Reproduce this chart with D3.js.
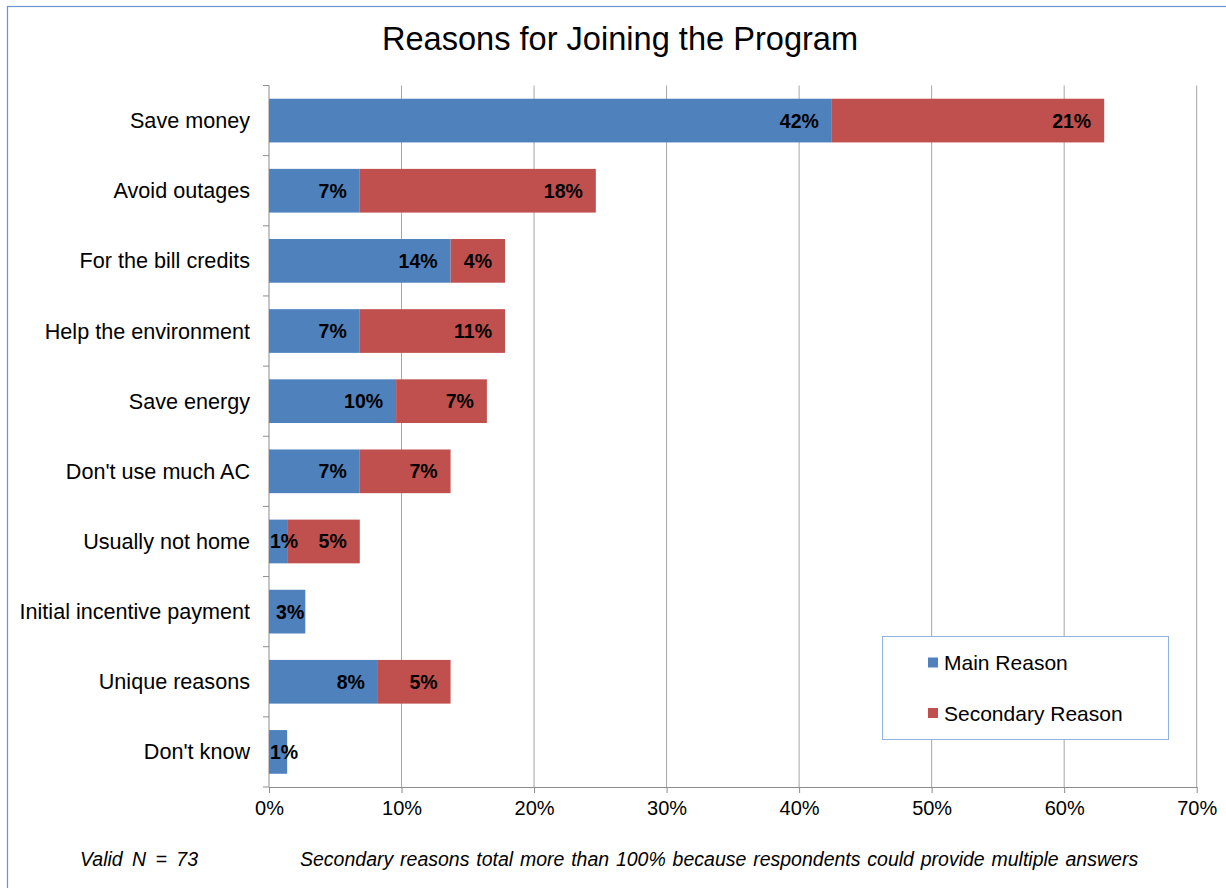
<!DOCTYPE html>
<html>
<head>
<meta charset="utf-8">
<script src="https://cdn.jsdelivr.net/npm/d3@7"></script>
<style>
  html, body { margin: 0; padding: 0; background: #ffffff; }
  svg { display: block; font-family: Arial, "Liberation Sans", sans-serif; }
</style>
</head>
<body>
<svg id="chart" width="1226" height="888"></svg>
<script>
// Reasons for joining, share of respondents (%), Valid N = 73
const categories = [
  "Save money",
  "Avoid outages",
  "For the bill credits",
  "Help the environment",
  "Save energy",
  "Don't use much AC",
  "Usually not home",
  "Initial incentive payment",
  "Unique reasons",
  "Don't know"
];
const mainReason      = [42.47, 6.85, 13.70, 6.85, 9.59, 6.85, 1.37, 2.74, 8.22, 1.37];
const secondaryReason = [20.55, 17.81, 4.11, 10.96, 6.85, 6.85, 5.48, 0, 5.48, 0];
const seriesNames = ["Main Reason", "Secondary Reason"];
const seriesColors = ["#4f81bd", "#c0504d"];
const xTicks = [0, 10, 20, 30, 40, 50, 60, 70];

const svg = d3.select("#chart");
const W = 1226, H = 888;

// outer chart frame
svg.append("rect")
  .attr("x", 7.5).attr("y", 6.5)
  .attr("width", W + 10).attr("height", H + 10)
  .attr("fill", "#ffffff")
  .attr("stroke", "#6a95cf").attr("stroke-width", 1.2);

const plot = { left: 269, right: 1196.7, top: 85.5, bottom: 787 };

const x = d3.scaleLinear().domain([0, 70]).range([plot.left, plot.right]);
const y = d3.scaleBand()
  .domain(categories)
  .range([plot.top, plot.bottom])
  .paddingInner(0.377)
  .paddingOuter(0.377 / 2);

// title
svg.append("text")
  .attr("x", 620).attr("y", 50)
  .attr("text-anchor", "middle")
  .attr("font-size", 32.6)
  .attr("fill", "#000")
  .text("Reasons for Joining the Program");

// vertical gridlines
svg.append("g")
  .selectAll("line")
  .data(xTicks.filter(d => d > 0))
  .join("line")
  .attr("x1", d => x(d)).attr("x2", d => x(d))
  .attr("y1", plot.top).attr("y2", plot.bottom)
  .attr("stroke", "#a6a6a6").attr("stroke-width", 1);

// bottom axis
const xAxis = svg.append("g")
  .attr("transform", `translate(0,${plot.bottom})`)
  .call(d3.axisBottom(x).tickValues(xTicks).tickFormat(d => d + "%").tickSizeInner(6).tickSizeOuter(0).tickPadding(8));
xAxis.select(".domain").attr("stroke", "#8c8c8c");
xAxis.selectAll(".tick line").attr("stroke", "#8c8c8c");
xAxis.selectAll(".tick text")
  .attr("font-size", 20)
  .attr("font-family", "Arial, 'Liberation Sans', sans-serif")
  .attr("fill", "#000");

// left axis: line, band boundary ticks, category labels
const yAxis = svg.append("g");
yAxis.append("line")
  .attr("x1", plot.left).attr("x2", plot.left)
  .attr("y1", plot.top).attr("y2", plot.bottom)
  .attr("stroke", "#8c8c8c");
const step = y.step();
const boundaries = d3.range(categories.length + 1).map(i => plot.top + i * step);
yAxis.selectAll("line.bt")
  .data(boundaries)
  .join("line")
  .attr("class", "bt")
  .attr("x1", plot.left - 6).attr("x2", plot.left)
  .attr("y1", d => d).attr("y2", d => d)
  .attr("stroke", "#8c8c8c");
yAxis.selectAll("text")
  .data(categories)
  .join("text")
  .attr("x", 250)
  .attr("y", d => y(d) + y.bandwidth() / 2)
  .attr("dy", "0.35em")
  .attr("text-anchor", "end")
  .attr("font-size", 21.6)
  .attr("fill", "#000")
  .text(d => d);

// stacked bars
const rows = categories.map((c, i) => ({ category: c, main: mainReason[i], secondary: secondaryReason[i] }));
const stacked = d3.stack().keys(["main", "secondary"])(rows);

const layers = svg.append("g").selectAll("g")
  .data(stacked)
  .join("g")
  .attr("fill", (d, i) => seriesColors[i]);

layers.selectAll("rect")
  .data(d => d.filter(s => s[1] - s[0] > 0))
  .join("rect")
  .attr("x", d => x(d[0]))
  .attr("width", d => x(d[1]) - x(d[0]))
  .attr("y", d => y(d.data.category))
  .attr("height", y.bandwidth());

// value labels, placed at the inside end of each segment
const labelG = svg.append("g");
stacked.forEach(layer => {
  layer.forEach(seg => {
    const v = seg[1] - seg[0];
    if (v <= 0) return;
    const x0 = x(seg[0]), x1 = x(seg[1]);
    const t = labelG.append("text")
      .attr("y", y(seg.data.category) + y.bandwidth() / 2)
      .attr("dy", "0.36em")
      .attr("font-size", 19.5)
      .attr("font-weight", "bold")
      .attr("fill", "#000")
      .text(Math.round(v) + "%");
    const w = t.node().getComputedTextLength();
    if (x1 - x0 >= w + 20) {
      t.attr("x", x1 - 13).attr("text-anchor", "end");
    } else {
      const cx = Math.max((x0 + x1) / 2 + 3, x0 + w / 2 + 1);
      t.attr("x", cx).attr("text-anchor", "middle");
    }
  });
});

// legend
const legend = svg.append("g");
legend.append("rect")
  .attr("x", 882.5).attr("y", 636.5)
  .attr("width", 286).attr("height", 103)
  .attr("fill", "#ffffff")
  .attr("stroke", "#8db3e2").attr("stroke-width", 1);
const legendRows = legend.selectAll("g")
  .data(seriesNames)
  .join("g")
  .attr("transform", (d, i) => `translate(928,${657.5 + i * 50.5})`);
legendRows.append("rect")
  .attr("width", 10).attr("height", 10)
  .attr("fill", (d, i) => seriesColors[i]);
legendRows.append("text")
  .attr("x", 16).attr("y", 5)
  .attr("dy", "0.36em")
  .attr("font-size", 21)
  .attr("fill", "#000")
  .text(d => d);

// footnotes
svg.append("text")
  .attr("x", 80).attr("y", 866)
  .attr("font-size", 19.5).attr("font-style", "italic")
  .attr("word-spacing", 4)
  .attr("fill", "#000")
  .text("Valid N = 73");
svg.append("text")
  .attr("x", 300).attr("y", 866)
  .attr("font-size", 19.5).attr("font-style", "italic")
  .attr("word-spacing", 1.4)
  .attr("fill", "#000")
  .text("Secondary reasons total more than 100% because respondents could provide multiple answers");
</script>
</body>
</html>
